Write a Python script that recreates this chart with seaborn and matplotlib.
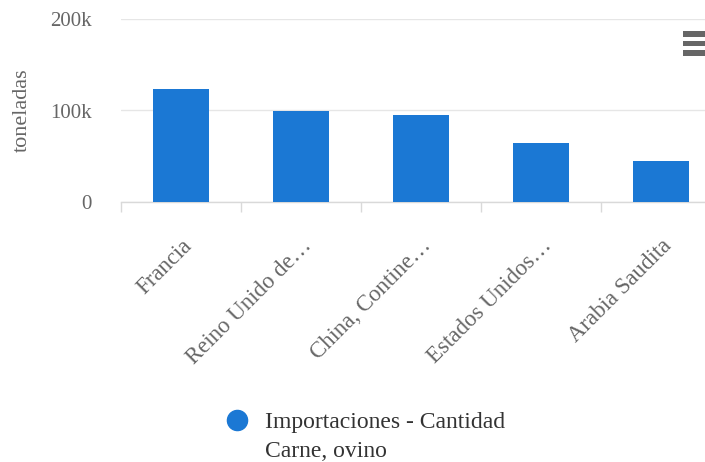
import matplotlib
matplotlib.use("Agg")
import matplotlib.pyplot as plt
from matplotlib.lines import Line2D
from matplotlib.patches import Rectangle
from matplotlib.legend_handler import HandlerLine2D
from matplotlib.ticker import FixedLocator, FuncFormatter
import pandas as pd
import seaborn as sns

# Imports of sheep meat by country (tonnes)
countries = ["Francia", "Reino Unido de…", "China, Contine…", "Estados Unidos…", "Arabia Saudita"]
quantities = [124000, 99500, 95000, 64500, 45000]
y_ticks = [0, 100000, 200000]
series_name = "Importaciones - Cantidad\nCarne, ovino"
y_title = "toneladas"

BAR_COLOR = "#1b78d4"
GRID_COLOR = "#e6e6e6"
LABEL_COLOR = "#666666"
LEGEND_COLOR = "#333333"

sns.set_theme(style="white")
plt.rcParams["font.family"] = "serif"
plt.rcParams["font.serif"] = ["Liberation Serif", "DejaVu Serif"]

df = pd.DataFrame({"country": countries, "tonnes": quantities})

W, H = 705, 462
fig = plt.figure(figsize=(W / 100, H / 100), dpi=100)
left, right, top, bottom = 121, 721, 19, 202
ax = fig.add_axes([left / W, 1 - bottom / H, (right - left) / W, (bottom - top) / H])

sns.barplot(data=df, x="country", y="tonnes", color=BAR_COLOR, saturation=1,
            width=0.46, ax=ax, edgecolor="none", zorder=3)

ax.set_xlim(-0.5, len(countries) - 0.5)
ax.set_ylim(0, 200000)
ax.set_yticks(y_ticks)
ax.yaxis.set_major_formatter(FuncFormatter(lambda v, _: "0" if v == 0 else f"{int(v/1000)}k"))
ax.grid(axis="y", color=GRID_COLOR, linewidth=1, zorder=0)
ax.set_axisbelow(True)

for s in ["top", "right", "left"]:
    ax.spines[s].set_visible(False)
ax.spines["bottom"].set_color("#d9d9d9")
ax.spines["bottom"].set_linewidth(1)

ax.tick_params(axis="y", length=0, pad=21, labelsize=15, labelcolor=LABEL_COLOR)
ax.tick_params(axis="x", which="major", length=0, pad=24, labelsize=16.5, labelcolor=LABEL_COLOR)
ax.xaxis.set_minor_locator(FixedLocator([i - 0.5 for i in range(len(countries) + 1)]))
ax.tick_params(axis="x", which="minor", bottom=True, length=7.5, width=1,
               color="#d9d9d9", direction="out")
for lbl in ax.get_xticklabels():
    lbl.set_rotation(45)
    lbl.set_ha("right")
    lbl.set_va("top")
    lbl.set_rotation_mode("anchor")

ax.set_xlabel("")
ax.set_ylabel(y_title, fontsize=16, color=LABEL_COLOR)
ax.yaxis.set_label_coords(-0.148, 0.5)


class FirstLineHandler(HandlerLine2D):
    """Place the legend marker beside the first line of a two-line label."""
    def create_artists(self, legend, orig_handle, xdescent, ydescent, width, height, fontsize, trans):
        arts = super().create_artists(legend, orig_handle, xdescent, ydescent, width, height, fontsize, trans)
        for a in arts:
            a.set_ydata([y + fontsize * 0.72 for y in a.get_ydata()])
        return arts


handle = Line2D([], [], marker="o", linestyle="", markersize=14.5,
                markerfacecolor=BAR_COLOR, markeredgecolor=BAR_COLOR)
leg = fig.legend([handle], [series_name], loc="upper left",
                 bbox_to_anchor=(211 / W, 1 - 400 / H), frameon=False,
                 fontsize=17, labelcolor=LEGEND_COLOR, handletextpad=0.6,
                 handlelength=1.2, borderpad=0, handler_map={Line2D: FirstLineHandler()})
for t in leg.get_texts():
    t.set_linespacing(1.5)

# export menu icon
for yc in (34, 43.5, 53):
    fig.add_artist(Rectangle((683 / W, 1 - (yc + 2.5) / H), 30 / W, 5 / H,
                             transform=fig.transFigure, color="#666666", linewidth=0))

fig.savefig("out.png", dpi=100)
